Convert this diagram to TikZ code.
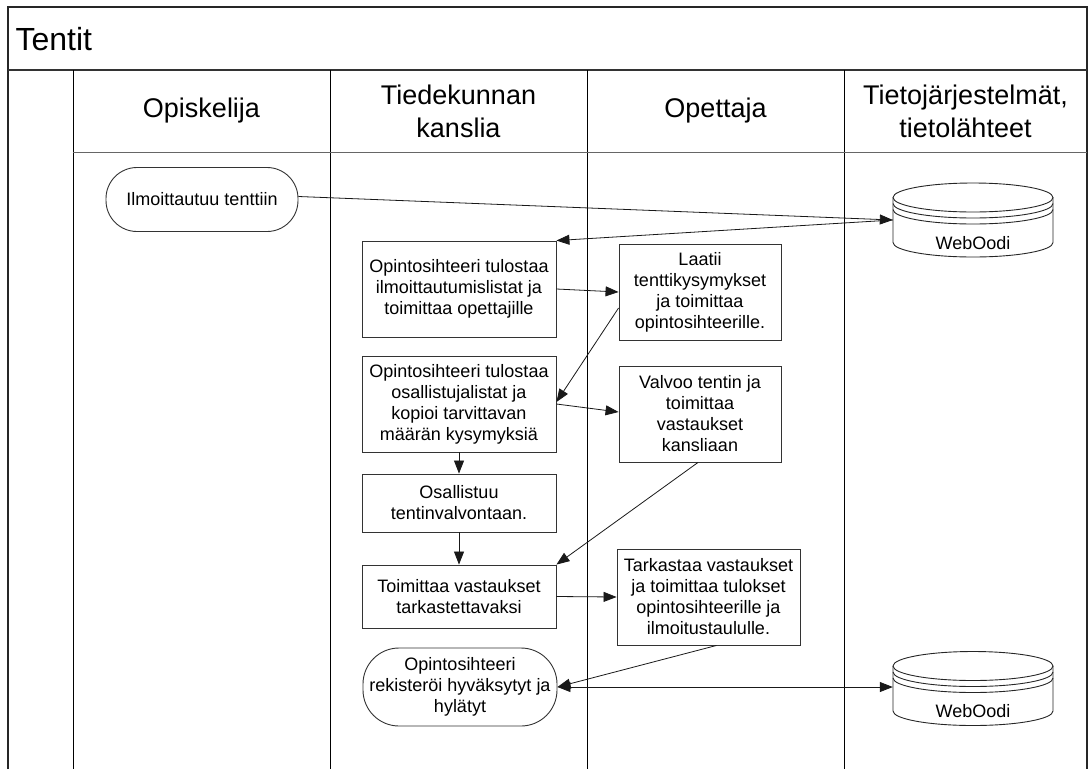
\documentclass[tikz,border=0pt]{standalone}
\usepackage{fontspec}
\setmainfont{Liberation Sans}
\usetikzlibrary{arrows.meta}

% database cylinder: #1 = centre x, #2 = centre y of the top ellipse
\newcommand{\dbcylinder}[2]{%
  \draw[dbline] (#1,#2) ellipse[x radius=80, y radius=14.5];
  \draw[dbline] (#1-80,#2+6) arc[start angle=180, end angle=0, x radius=80, y radius=14.5];
  \draw[dbline] (#1-80,#2+12) arc[start angle=180, end angle=0, x radius=80, y radius=14.5];
  \draw[dbline] (#1-80,#2) -- (#1-80,#2+45)
     arc[start angle=180, end angle=0, x radius=80, y radius=14.5] -- (#1+80,#2);
}

\begin{document}
\begin{tikzpicture}[x=1pt, y=-1pt,
  frame/.style={line width=1.2pt, draw=black!85},
  lane/.style={line width=1pt, draw=black},
  stepbox/.style={draw=black!80, line width=0.9pt, align=center, inner sep=0pt,
    font=\fontsize{18}{21}\selectfont},
  termbox/.style={stepbox},
  dbline/.style={draw=black!85, line width=0.9pt},
  lanehead/.style={align=center, font=\fontsize{27}{33}\selectfont},
  flow/.style={-{Triangle[length=13pt, width=10pt]}, line width=0.8pt, draw=black!90},
  flowboth/.style={{Triangle[length=13pt, width=10pt]}-{Triangle[length=13pt, width=10pt]}, line width=0.8pt, draw=black!90},
]
\useasboundingbox (0,0) rectangle (1089,769);

% pool frame and title band
\draw[frame] (8,769) -- (8,7) -- (1087,7) -- (1087,769);
\draw[line width=2pt, draw=black!80] (8,70) -- (1087,70);
\node[anchor=west, font=\fontsize{32}{36}\selectfont] (title) at (12,39) {Tentit};

% lanes
\draw[lane] (73,70) -- (73,769);
\draw[lane] (330,70) -- (330,769);
\draw[lane] (587,70) -- (587,769);
\draw[lane] (844,70) -- (844,769);
\draw[line width=1pt, draw=black!60] (73,152) -- (1087,152);

\node[lanehead] (h1) at (201.5,111) {Opiskelija};
\node[lanehead] (h2) at (458.5,111) {Tiedekunnan\\kanslia};
\node[lanehead] (h3) at (715.5,111) {Opettaja};
\node[lanehead] (h4) at (965.5,111) {Tietojärjestelmät,\\tietolähteet};

% process steps
\node[termbox, minimum width=192, minimum height=64, rounded corners=31] (i1) at (202,199.5) {Ilmoittautuu tenttiin};
\node[stepbox, minimum width=194, minimum height=96] (b1) at (459,289) {Opintosihteeri tulostaa\\ilmoittautumislistat ja\\toimittaa opettajille};
\node[stepbox, minimum width=162, minimum height=96] (l1) at (700,292) {Laatii\\tenttikysymykset\\ja toimittaa\\opintosihteerille.};
\node[stepbox, minimum width=194, minimum height=96] (b3) at (459,404) {Opintosihteeri tulostaa\\osallistujalistat ja\\kopioi tarvittavan\\määrän kysymyksiä};
\node[stepbox, minimum width=162, minimum height=96] (v1) at (700,414) {Valvoo tentin ja\\toimittaa\\vastaukset\\kansliaan};
\node[stepbox, minimum width=194, minimum height=58] (o1) at (459,503) {Osallistuu\\tentinvalvontaan.};
\node[stepbox, minimum width=194, minimum height=63] (t1) at (459,596.5) {Toimittaa vastaukset\\tarkastettavaksi};
\node[stepbox, minimum width=183, minimum height=96] (k1) at (708.5,597) {Tarkastaa vastaukset\\ja toimittaa tulokset\\opintosihteerille ja\\ilmoitustaululle.};
\node[termbox, minimum width=194, minimum height=78, rounded corners=36] (r1) at (460,687) {Opintosihteeri\\rekisteröi hyväksytyt ja\\hylätyt};

% data stores
\dbcylinder{973}{197.5}
\node[inner sep=0pt, minimum width=160, minimum height=45] (db1) at (973,220) {};
\node[font=\fontsize{18}{21}\selectfont] (db1t) at (973,243) {WebOodi};
\dbcylinder{973}{666}
\node[inner sep=0pt, minimum width=160, minimum height=45] (db2) at (973,687) {};
\node[font=\fontsize{18}{21}\selectfont] (db2t) at (973,711) {WebOodi};

% flows
\draw[flow] ([yshift=3pt]i1.east) -- (db1.west);
\draw[flow] (db1.west) -- (b1.north east);
\draw[flow] (b1.east) -- (l1.west);
\draw[flow] ([yshift=-16pt]l1.west) -- ([yshift=2pt]b3.east);
\draw[flow] (b3.east) -- ([yshift=2pt]v1.west);
\draw[flow] (b3) -- (o1);
\draw[flow] (o1) -- (t1);
\draw[flow] ([xshift=-2pt]v1.south) -- (t1.north east);
\draw[flow] (t1.east) -- (k1.west);
\draw[flow] ([xshift=8pt]k1.south) -- (r1.east);
\draw[flowboth] (r1.east) -- (db2.west);
\end{tikzpicture}
\end{document}
